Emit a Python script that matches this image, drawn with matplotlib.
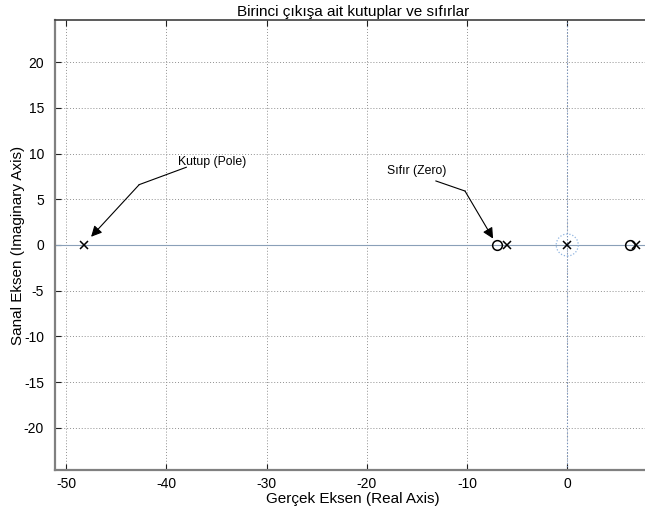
import matplotlib
matplotlib.use("Agg")
import matplotlib.pyplot as plt
from matplotlib.patches import Ellipse

plt.rcParams['font.family'] = ['Liberation Sans', 'DejaVu Sans']
plt.rcParams['axes.unicode_minus'] = False

# poles and zeros of the first output
pole_re = [-48.2, -6.0, 0.0, 6.9]
pole_im = [0.0, 0.0, 0.0, 0.0]
zero_re = [-7.0, 6.3]
zero_im = [0.0, 0.0]

xticks = [-50, -40, -30, -20, -10, 0]
yticks = [-20, -15, -10, -5, 0, 5, 10, 15, 20]

fig = plt.figure(figsize=(6.45, 5.15), dpi=100)
ax = fig.add_axes([55 / 645, 45 / 515, 1 - 55 / 645 + 0.01, 450 / 515])

ax.set_xlim(-51.1, 8.4)
ax.set_ylim(-24.6, 24.6)
ax.set_xticks(xticks)
ax.set_yticks(yticks)
ax.grid(True, color='#909090', linestyle=(0, (1, 2)), linewidth=0.7)
ax.set_axisbelow(True)

# real axis and imaginary axis reference lines
ax.axhline(0, color='#8aa0b8', linewidth=0.8, zorder=1)
ax.axvline(0, color='#6f8fc0', linestyle=(0, (1, 2)), linewidth=0.8, zorder=1)
ax.add_patch(Ellipse((0, 0), 2.2, 2.4, fill=False, edgecolor='#8fb4e0',
                     linestyle=(0, (1, 1.5)), linewidth=0.9, zorder=2))

ax.plot(pole_re, pole_im, 'x', color='black', markersize=5.5, markeredgewidth=1.1, zorder=3)
ax.plot(zero_re, zero_im, 'o', markerfacecolor='none', markeredgecolor='black',
        markersize=7, markeredgewidth=1.1, zorder=3)

# annotations with a bent leader line
ax.plot([-38.0, -42.7], [8.5, 6.6], color='black', linewidth=0.8)
ax.annotate('', xy=(-47.5, 0.9), xytext=(-42.7, 6.6),
            arrowprops=dict(arrowstyle='-|>', color='black', lw=0.8,
                            mutation_scale=16, shrinkA=0, shrinkB=0))
ax.text(-38.8, 9.1, 'Kutup (Pole)', fontsize=8.8, va='center', ha='left')

ax.plot([-13.1, -10.2], [7.0, 5.9], color='black', linewidth=0.8)
ax.annotate('', xy=(-7.4, 0.7), xytext=(-10.2, 5.9),
            arrowprops=dict(arrowstyle='-|>', color='black', lw=0.8,
                            mutation_scale=16, shrinkA=0, shrinkB=0))
ax.text(-18.0, 8.1, 'Sıfır (Zero)', fontsize=8.8, va='center', ha='left')

ax.spines['right'].set_visible(False)
ax.spines['left'].set_color('#808080')
ax.spines['left'].set_linewidth(1.6)
ax.spines['bottom'].set_color('#808080')
ax.spines['bottom'].set_linewidth(1.6)
ax.spines['top'].set_color('#404040')
ax.spines['top'].set_linewidth(1.2)
ax.tick_params(direction='in', length=4, color='#202020', labelsize=10, pad=8,
               top=True)
ax.tick_params(axis='x', pad=5)

ax.set_xlabel('Gerçek Eksen (Real Axis)', fontsize=11, labelpad=1)
ax.set_ylabel('Sanal Eksen (Imaginary Axis)', fontsize=11)
ax.yaxis.set_label_coords(-0.05, 0.5)
ax.set_title('Birinci çıkışa ait kutuplar ve sıfırlar', fontsize=11, pad=3)

fig.savefig('out.png', dpi=100)
